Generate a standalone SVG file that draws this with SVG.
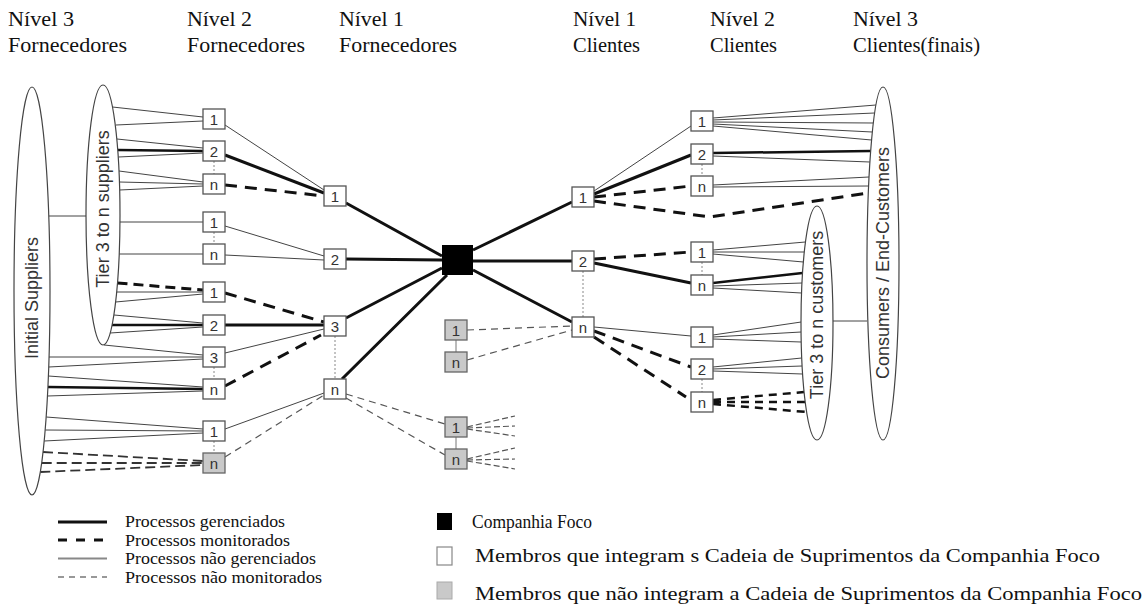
<svg xmlns="http://www.w3.org/2000/svg" width="1148" height="610" viewBox="0 0 1148 610">
<defs>
<style>
.hdr{font-family:"Liberation Serif","Times New Roman",serif;font-size:21px;fill:#111}
.leg{font-family:"Liberation Serif","Times New Roman",serif;font-size:17px;fill:#111}
.leg2{font-family:"Liberation Serif","Times New Roman",serif;font-size:19px;fill:#111}
.ell{fill:#fff;stroke:#444;stroke-width:1.2}
.etx{font-family:"Liberation Sans",Arial,sans-serif;font-size:18px;fill:#333;text-anchor:middle}
.box{fill:#fff;stroke:#555;stroke-width:1.3}
.gbox{fill:#c9c9c9;stroke:#666;stroke-width:1.3}
.lbl{font-family:"Liberation Sans",Arial,sans-serif;font-size:15px;fill:#333;text-anchor:middle}
.m{stroke:#111;stroke-width:3;fill:none}
.mo{stroke:#111;stroke-width:3;fill:none;stroke-dasharray:12 8}
.u{stroke:#444;stroke-width:1;fill:none}
.un{stroke:#555;stroke-width:1.2;fill:none;stroke-dasharray:7 5}
.und{stroke:#333;stroke-width:1.8;fill:none;stroke-dasharray:10 5}
.dot{stroke:#888;stroke-width:1;fill:none;stroke-dasharray:2 2}
</style>
</defs>

<!-- column headings -->
<g id="headings">
<text class="hdr" x="8" y="26" textLength="66" lengthAdjust="spacingAndGlyphs">Nível 3</text><text class="hdr" x="8" y="52" textLength="119" lengthAdjust="spacingAndGlyphs">Fornecedores</text>
<text class="hdr" x="187" y="26" textLength="65" lengthAdjust="spacingAndGlyphs">Nível 2</text><text class="hdr" x="187" y="52" textLength="118" lengthAdjust="spacingAndGlyphs">Fornecedores</text>
<text class="hdr" x="339" y="26" textLength="65" lengthAdjust="spacingAndGlyphs">Nível 1</text><text class="hdr" x="339" y="52" textLength="118" lengthAdjust="spacingAndGlyphs">Fornecedores</text>
<text class="hdr" x="573" y="26" textLength="63" lengthAdjust="spacingAndGlyphs">Nível 1</text><text class="hdr" x="573" y="52" textLength="67" lengthAdjust="spacingAndGlyphs">Clientes</text>
<text class="hdr" x="710" y="26" textLength="65" lengthAdjust="spacingAndGlyphs">Nível 2</text><text class="hdr" x="710" y="52" textLength="67" lengthAdjust="spacingAndGlyphs">Clientes</text>
<text class="hdr" x="853" y="26" textLength="65" lengthAdjust="spacingAndGlyphs">Nível 3</text><text class="hdr" x="853" y="52" textLength="127" lengthAdjust="spacingAndGlyphs">Clientes(finais)</text>
</g>

<!-- connectors -->
<g id="connectors">
<!-- ellipse to ellipse -->
<path class="u" d="M48.7 216H86"/>
<path class="u" d="M833 321H867"/>

<!-- tier 3 suppliers fan to level 2 -->
<path class="u" d="M112.5 107L203 117M116 125L203 121"/>
<path class="u" d="M117 139L203 148M118.3 157L203 153"/>
<path class="m" d="M117.7 150L203 151" style="stroke-width:2.5"/>
<path class="u" d="M119 171L203 182M119.4 182L203 184M119.7 190L203 186"/>
<path class="u" d="M120 222H203M119.2 254H203"/>
<path class="mo" d="M117.5 283L203 290" style="stroke-dasharray:10 6"/>
<path class="u" d="M116.7 292L203 292M115.6 302L203 294"/>
<path class="u" d="M114 315L203 323M110 333L203 327"/>
<path class="m" d="M112 325L203 325" style="stroke-width:2.5"/>
<path class="u" d="M104 345L203 355M49 357L203 357M48.7 367L203 359"/>
<path class="u" d="M48.4 376L203 387M47.4 396L203 391"/>
<path class="m" d="M47.9 387L203 389" style="stroke-width:2.5"/>
<path class="u" d="M46.2 417L203 429M45.2 430L203 431M44.2 441L203 433"/>
<path class="und" d="M43 452L203 461M41.7 463L203 463M40.3 472L203 465"/>

<!-- level 2 suppliers to level 1 suppliers -->
<path class="u" d="M225 125L324 190"/>
<path class="m" d="M225 155L324 193"/>
<path class="mo" d="M225 185L324 196"/>
<path class="u" d="M225 226L324 256M225 255L324 260"/>
<path class="mo" d="M225 293L324 322"/>
<path class="m" d="M225 325L324 325"/>
<path class="u" d="M225 353L324 329"/>
<path class="mo" d="M225 386L321 335"/>
<path class="u" d="M225 429L324 393"/>
<path class="un" d="M225 457L324 395"/>

<!-- level 1 suppliers to focal company -->
<path class="m" d="M346 203L442 256M346 259L442 260M346 318L442 268M342 379L447 275"/>

<!-- level 1 supplier n to outside members -->
<path class="un" d="M346 394L445 424M346 398L445 455"/>
<path class="un" d="M467 330L572 326M467 360L572 330"/>
<path class="un" d="M467 427L515 416M467 428L515 426M467 429L515 436" style="stroke-dasharray:6 3"/>
<path class="un" d="M467 459L515 448M467 460L515 459M467 461L515 469" style="stroke-dasharray:6 3"/>

<!-- focal company to level 1 customers -->
<path class="m" d="M473 250L572 202M473 261L572 261M473 270L572 322"/>

<!-- level 1 customers to level 2 customers -->
<path class="u" d="M594 191L691 126"/>
<path class="m" d="M594 194L691 155"/>
<path class="mo" d="M594 197L691 186"/>
<path class="mo" d="M594 201L710 217L868 193"/>
<path class="mo" d="M594 259L691 252"/>
<path class="m" d="M594 263L691 283"/>
<path class="u" d="M594 327L691 336"/>
<path class="mo" d="M594 331L691 367"/>
<path class="mo" d="M594 337L686 397"/>

<!-- level 2 customers to end customers -->
<path class="u" d="M713 118L876 105M713 120L874.6 113M713 122L873.3 123M713 124L872.3 132M713 126L871.6 140"/>
<path class="m" d="M713 153L870.7 151" style="stroke-width:2.5"/>
<path class="u" d="M713 156L869.9 162M713 185L869 177M713 187L868.6 186"/>

<!-- level 2 customers to tier 3 customers -->
<path class="u" d="M713 250L805.4 242M713 252L804.3 252M713 254L803.4 262"/>
<path class="m" d="M713 283L802.5 273" style="stroke-width:2.5"/>
<path class="u" d="M713 286L802 283M713 288L801.5 293"/>
<path class="u" d="M713 335L801.2 322M713 337L801.2 332M713 339L801.2 342"/>
<path class="u" d="M713 367L801.7 358M713 369L802.1 366M713 371L802.6 374"/>
<path class="mo" d="M713 400L804.1 392M713 402L805.2 402M713 404L806.6 412" style="stroke-width:2.5;stroke-dasharray:8 6"/>

<!-- stacked member links -->
<path class="dot" d="M214 161V174M214 232V244M214 367V379M214 441V453M335 336V379"/>
<path class="dot" d="M583 271V317M702 164V176M702 262V275M702 379V392"/>
<path class="u" d="M456 340V352M456 437V449" style="stroke:#777"/>
</g>

<!-- tier groups -->
<g id="initial-suppliers">
<ellipse class="ell" cx="32" cy="291" rx="18" ry="204"/>
<text class="etx" transform="translate(32 298) rotate(-90)" dy="6">Initial Suppliers</text>
</g>
<g id="tier3-suppliers">
<ellipse class="ell" cx="103" cy="215" rx="17" ry="130"/>
<text class="etx" transform="translate(103 209) rotate(-90)" dy="6">Tier 3 to n suppliers</text>
</g>
<g id="tier3-customers">
<ellipse class="ell" cx="817" cy="323" rx="16" ry="117"/>
<text class="etx" transform="translate(817 315) rotate(-90)" dy="6">Tier 3 to n customers</text>
</g>
<g id="end-customers">
<ellipse class="ell" cx="883" cy="263.5" rx="16" ry="176.5"/>
<text class="etx" transform="translate(883 263) rotate(-90)" dy="6">Consumers / End-Customers</text>
</g>

<!-- level 2 suppliers -->
<g id="s2-1a"><rect class="box" x="203" y="109" width="22" height="20"/><text class="lbl" x="214" y="124.5">1</text></g>
<g id="s2-2a"><rect class="box" x="203" y="141" width="22" height="20"/><text class="lbl" x="214" y="156.5">2</text></g>
<g id="s2-na"><rect class="box" x="203" y="174" width="22" height="20"/><text class="lbl" x="214" y="189.5">n</text></g>
<g id="s2-1b"><rect class="box" x="203" y="212" width="22" height="20"/><text class="lbl" x="214" y="227.5">1</text></g>
<g id="s2-nb"><rect class="box" x="203" y="244" width="22" height="20"/><text class="lbl" x="214" y="259.5">n</text></g>
<g id="s2-1c"><rect class="box" x="203" y="282" width="22" height="20"/><text class="lbl" x="214" y="297.5">1</text></g>
<g id="s2-2c"><rect class="box" x="203" y="315" width="22" height="20"/><text class="lbl" x="214" y="330.5">2</text></g>
<g id="s2-3c"><rect class="box" x="203" y="347" width="22" height="20"/><text class="lbl" x="214" y="362.5">3</text></g>
<g id="s2-nc"><rect class="box" x="203" y="379" width="22" height="20"/><text class="lbl" x="214" y="394.5">n</text></g>
<g id="s2-1d"><rect class="box" x="203" y="421" width="22" height="20"/><text class="lbl" x="214" y="436.5">1</text></g>
<g id="s2-nd"><rect class="gbox" x="203" y="453" width="22" height="20"/><text class="lbl" x="214" y="468.5">n</text></g>

<!-- level 1 suppliers -->
<g id="s1-1"><rect class="box" x="324" y="186" width="22" height="20"/><text class="lbl" x="335" y="201.5">1</text></g>
<g id="s1-2"><rect class="box" x="324" y="249" width="22" height="20"/><text class="lbl" x="335" y="264.5">2</text></g>
<g id="s1-3"><rect class="box" x="324" y="316" width="22" height="20"/><text class="lbl" x="335" y="331.5">3</text></g>
<g id="s1-n"><rect class="box" x="324" y="379" width="22" height="20"/><text class="lbl" x="335" y="394.5">n</text></g>

<!-- focal company -->
<g id="focal"><rect x="442" y="245" width="31" height="30" fill="#000"/></g>

<!-- members outside the chain -->
<g id="o-1a"><rect class="gbox" x="445" y="320" width="22" height="20"/><text class="lbl" x="456" y="335.5">1</text></g>
<g id="o-na"><rect class="gbox" x="445" y="352" width="22" height="20"/><text class="lbl" x="456" y="367.5">n</text></g>
<g id="o-1b"><rect class="gbox" x="445" y="417" width="22" height="20"/><text class="lbl" x="456" y="432.5">1</text></g>
<g id="o-nb"><rect class="gbox" x="445" y="449" width="22" height="20"/><text class="lbl" x="456" y="464.5">n</text></g>

<!-- level 1 customers -->
<g id="c1-1"><rect class="box" x="572" y="187" width="22" height="20"/><text class="lbl" x="583" y="202.5">1</text></g>
<g id="c1-2"><rect class="box" x="572" y="251" width="22" height="20"/><text class="lbl" x="583" y="266.5">2</text></g>
<g id="c1-n"><rect class="box" x="572" y="317" width="22" height="20"/><text class="lbl" x="583" y="332.5">n</text></g>

<!-- level 2 customers -->
<g id="c2-1a"><rect class="box" x="691" y="111" width="22" height="20"/><text class="lbl" x="702" y="126.5">1</text></g>
<g id="c2-2a"><rect class="box" x="691" y="144" width="22" height="20"/><text class="lbl" x="702" y="159.5">2</text></g>
<g id="c2-na"><rect class="box" x="691" y="176" width="22" height="20"/><text class="lbl" x="702" y="191.5">n</text></g>
<g id="c2-1b"><rect class="box" x="691" y="242" width="22" height="20"/><text class="lbl" x="702" y="257.5">1</text></g>
<g id="c2-nb"><rect class="box" x="691" y="275" width="22" height="20"/><text class="lbl" x="702" y="290.5">n</text></g>
<g id="c2-1c"><rect class="box" x="691" y="327" width="22" height="20"/><text class="lbl" x="702" y="342.5">1</text></g>
<g id="c2-2c"><rect class="box" x="691" y="359" width="22" height="20"/><text class="lbl" x="702" y="374.5">2</text></g>
<g id="c2-nc"><rect class="box" x="691" y="392" width="22" height="20"/><text class="lbl" x="702" y="407.5">n</text></g>

<!-- legend -->
<g id="legend-lines">
<path class="m" d="M58 522H107"/>
<path class="mo" d="M58 540H107" style="stroke-dasharray:9 9"/>
<path d="M58 558.5H107" stroke="#888" stroke-width="2"/>
<path d="M58 577H107" stroke="#777" stroke-width="1.5" stroke-dasharray="6 5"/>
<text class="leg" x="125" y="527" textLength="160" lengthAdjust="spacingAndGlyphs">Processos gerenciados</text>
<text class="leg" x="125" y="545.5" textLength="165" lengthAdjust="spacingAndGlyphs">Processos monitorados</text>
<text class="leg" x="125" y="564" textLength="191" lengthAdjust="spacingAndGlyphs">Processos não gerenciados</text>
<text class="leg" x="125" y="582.5" textLength="197" lengthAdjust="spacingAndGlyphs">Processos não monitorados</text>
</g>
<g id="legend-members">
<rect x="437" y="513" width="15" height="17" fill="#000"/>
<rect x="437" y="547" width="15" height="18" fill="#fff" stroke="#888" stroke-width="1.2"/>
<rect x="437" y="582" width="15" height="17" fill="#c9c9c9" stroke="#aaa" stroke-width="1"/>
<text class="leg2" x="472" y="528" textLength="120" lengthAdjust="spacingAndGlyphs">Companhia Foco</text>
<text class="leg2" x="475" y="562" textLength="625" lengthAdjust="spacingAndGlyphs">Membros  que integram s Cadeia de Suprimentos da Companhia Foco</text>
<text class="leg2" x="475" y="600" textLength="667" lengthAdjust="spacingAndGlyphs">Membros  que não integram a  Cadeia de Suprimentos da Companhia Foco</text>
</g>
</svg>
